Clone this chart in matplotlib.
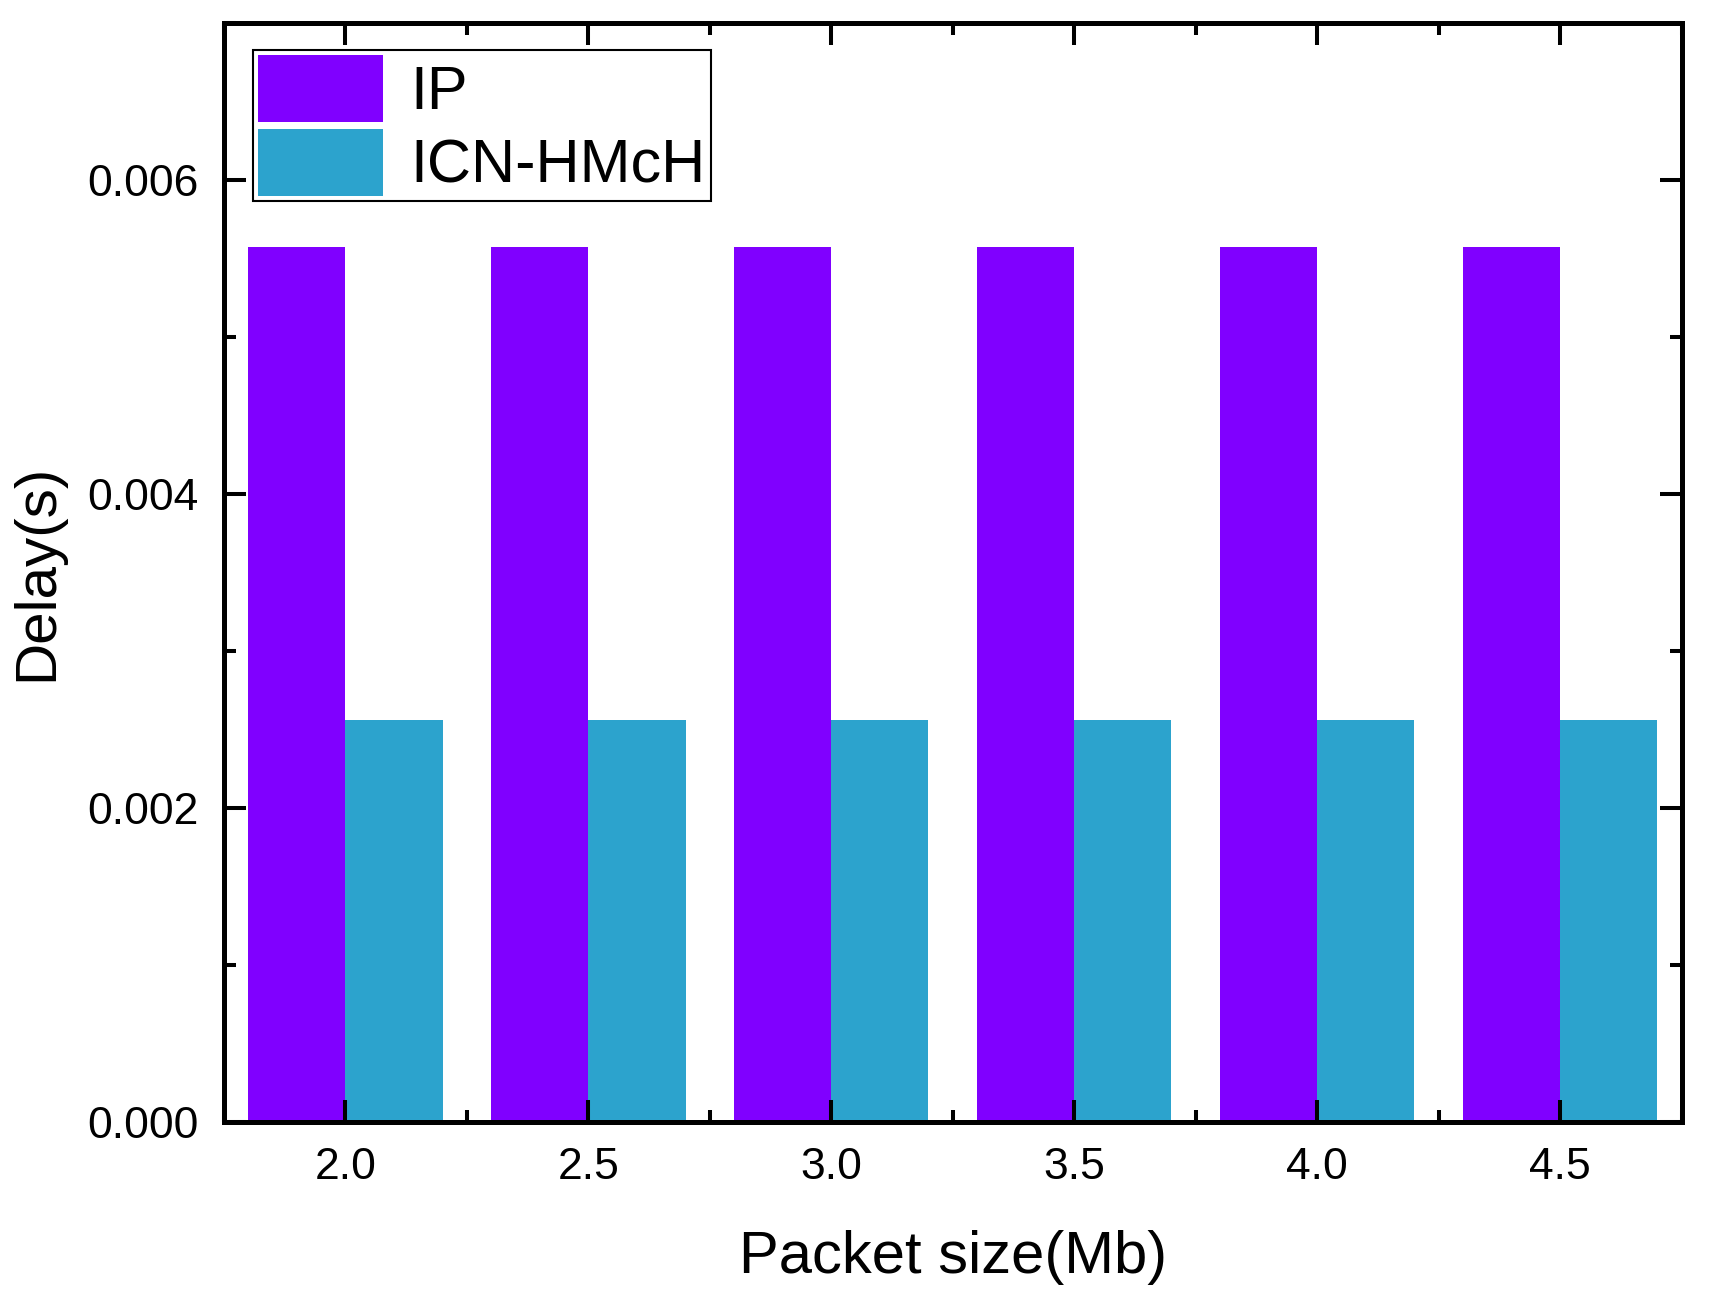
import numpy as np
import matplotlib.pyplot as plt
from matplotlib.ticker import MultipleLocator, FormatStrFormatter

plt.rcParams['font.family'] = ['Liberation Sans', 'DejaVu Sans']

# packet sizes (Mb) and delays (s)
packet_size = [2.0, 2.5, 3.0, 3.5, 4.0, 4.5]
delay_ip = [0.00557, 0.00557, 0.00557, 0.00557, 0.00557, 0.00557]
delay_icn = [0.00256, 0.00256, 0.00256, 0.00256, 0.00256, 0.00256]
series_names = ['IP', 'ICN-HMcH']
series_colors = ['#8000FF', '#2CA3CD']

fig = plt.figure(figsize=(17.09, 13.09), dpi=100)
ax = fig.add_axes([0.131, 0.1428, 0.853, 0.8399])

x = np.array(packet_size)
w = 0.2
ax.bar(x - w / 2, delay_ip, width=w, color=series_colors[0], label=series_names[0])
ax.bar(x + w / 2, delay_icn, width=w, color=series_colors[1], label=series_names[1])

ax.set_xlim(1.75, 4.75)
ax.set_ylim(0, 0.007)
ax.xaxis.set_major_locator(MultipleLocator(0.5))
ax.xaxis.set_minor_locator(MultipleLocator(0.25))
ax.yaxis.set_major_locator(MultipleLocator(0.002))
ax.yaxis.set_minor_locator(MultipleLocator(0.001))
ax.xaxis.set_major_formatter(FormatStrFormatter('%.1f'))
ax.yaxis.set_major_formatter(FormatStrFormatter('%.3f'))

for s in ax.spines.values():
    s.set_linewidth(3.6)
ax.tick_params(which='both', direction='in', top=True, right=True, width=2.9)
ax.tick_params(which='major', length=16, labelsize=32, pad=18)
ax.tick_params(which='minor', length=8.5)

ax.set_xlabel('Packet size(Mb)', fontsize=43, labelpad=30)
ax.set_ylabel('Delay(s)', fontsize=42, labelpad=17)

leg = ax.legend(loc='upper left', bbox_to_anchor=(0.02, 0.975), borderaxespad=0,
                fontsize=44, handlelength=2.05, handleheight=1.3, labelspacing=0.12,
                handletextpad=0.45, borderpad=0.08, fancybox=False, framealpha=1)
leg.get_frame().set_edgecolor('black')
leg.get_frame().set_linewidth(1.5)

fig.savefig('out.png', dpi=100)
